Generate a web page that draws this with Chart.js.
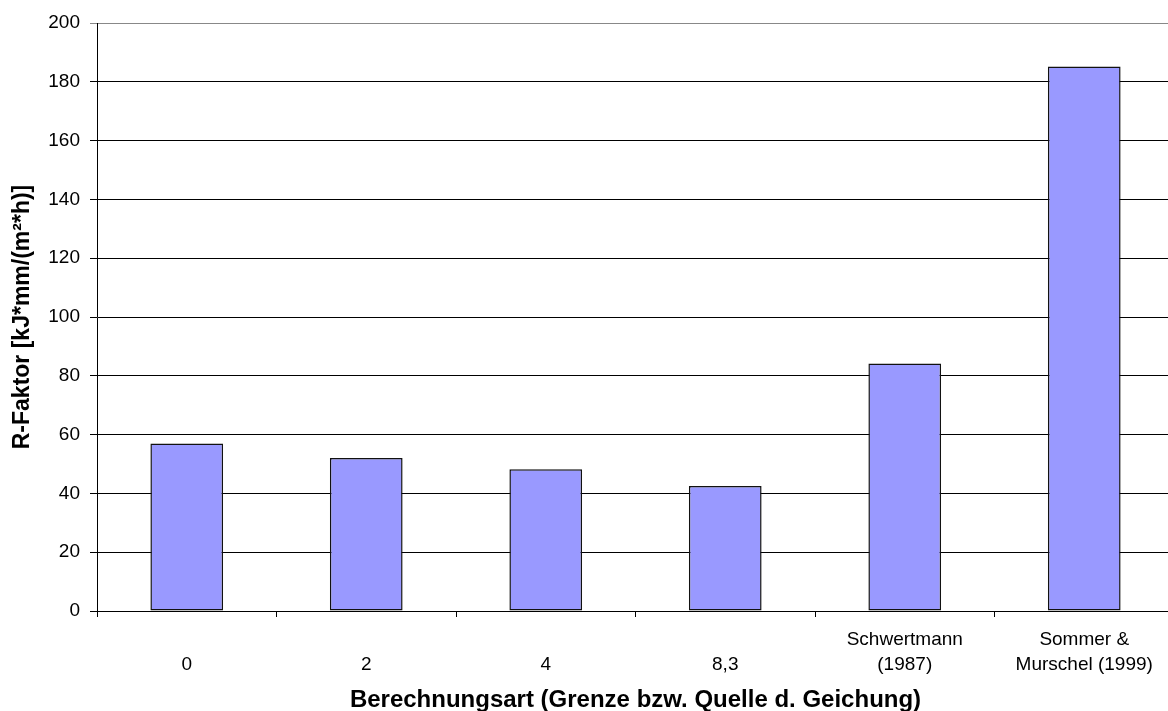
<!DOCTYPE html>
<html>
<head>
<meta charset="utf-8">
<script src="https://cdn.jsdelivr.net/npm/chart.js@4/dist/chart.umd.min.js"></script>
<style>
  html, body { margin: 0; padding: 0; background: #fff; overflow: hidden; }
  #wrap { width: 1180px; height: 711px; }
</style>
</head>
<body>
<div id="wrap"><canvas id="rChart"></canvas></div>
<script>
// categories (multi-line labels, single ones sit on the lower line like the original)
const categories = [
  ['', '0'],
  ['', '2'],
  ['', '4'],
  ['', '8,3'],
  ['Schwertmann', '(1987)'],
  ['Sommer &', 'Murschel (1999)']
];
const rFactor = [57, 52, 48.2, 42.5, 84.2, 185.2];
const yTicks = [0, 20, 40, 60, 80, 100, 120, 140, 160, 180, 200];

const xTitle = 'Berechnungsart (Grenze bzw. Quelle d. Geichung)';
const yTitle = 'R-Faktor [kJ*mm/(m²*h)]';

Chart.defaults.font.family = '"Liberation Sans", Arial, sans-serif';
Chart.defaults.color = '#000';

function initChart() {
  const canvas = document.getElementById('rChart');
  new Chart(canvas, {
    type: 'bar',
    data: {
      labels: categories,
      datasets: [{
        label: 'R-Faktor',
        data: rFactor,
        backgroundColor: '#9999ff',
        borderColor: '#111',
        borderWidth: 1.5,
        borderSkipped: false,
        barPercentage: 0.405,
        categoryPercentage: 1
      }]
    },
    options: {
      responsive: true,
      maintainAspectRatio: false,
      animation: false,
      layout: { padding: { top: 23, right: 6, bottom: 0, left: 0 } },
      plugins: {
        legend: { display: false },
        tooltip: { enabled: false }
      },
      scales: {
        x: {
          offset: true,
          afterFit: scale => { scale.height = 100; },
          grid: {
            offset: true,
            drawOnChartArea: false,
            color: '#000',
            tickLength: 6
          },
          border: { color: '#000', width: 1 },
          ticks: {
            font: { size: 19, lineHeight: 1.32 },
            padding: 10,
            maxRotation: 0,
            autoSkip: false
          },
          title: {
            display: true,
            text: xTitle,
            font: { size: 24, weight: 'bold', lineHeight: 0.85 },
            padding: { top: 0, bottom: 0 }
          }
        },
        y: {
          min: 0,
          max: 200,
          afterFit: scale => { scale.width = 97; },
          afterBuildTicks: scale => { scale.ticks = yTicks.map(v => ({ value: v })); },
          grid: {
            color: ctx => (ctx.tick && ctx.tick.value === 200 ? '#888' : '#000'),
            tickLength: 7
          },
          border: { color: '#000', width: 1 },
          ticks: {
            font: { size: 19 },
            padding: 10
          },
          title: {
            display: true,
            text: yTitle,
            font: { size: 23, weight: 'bold', lineHeight: 1.2 },
            padding: { top: 9, bottom: 0 }
          }
        }
      }
    }
  });
}

if (document.readyState === 'loading') {
  document.addEventListener('DOMContentLoaded', initChart);
} else {
  initChart();
}
</script>
</body>
</html>
